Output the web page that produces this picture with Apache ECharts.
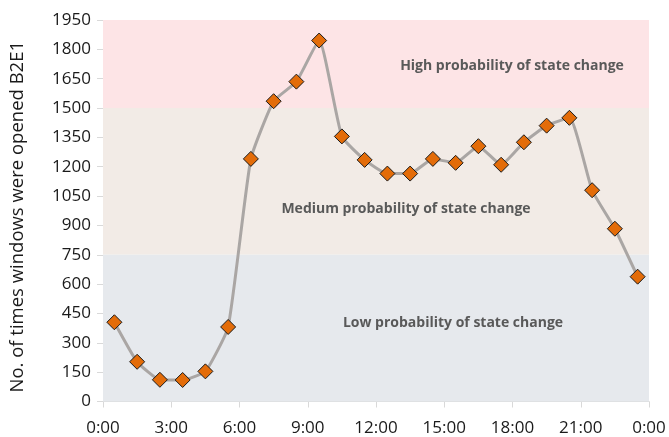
<!DOCTYPE html>
<html>
<head>
<meta charset="utf-8">
<script src="https://cdn.jsdelivr.net/npm/echarts@6/dist/echarts.min.js"></script>
<style>html,body{margin:0;padding:0;background:#fff}#c{width:669px;height:437px}</style>
</head>
<body>
<div id="c"></div>
<script>
var hours = [0.5,1.5,2.5,3.5,4.5,5.5,6.5,7.5,8.5,9.5,10.5,11.5,12.5,13.5,14.5,15.5,16.5,17.5,18.5,19.5,20.5,21.5,22.5,23.5];
var counts = [405,203,111,110,154,381,1240,1535,1635,1845,1355,1235,1165,1165,1240,1220,1305,1210,1325,1410,1450,1080,883,638];
var bandNames = ['High probability of state change','Medium probability of state change','Low probability of state change'];
var bandFrom = [1500, 750, 0];
var bandTo = [1950, 1500, 750];
var bandColors = ['#fde4e6','#f2ebe6','#e6e9ed'];
var bandLabelOffsets = [[136,2],[30,28],[77,-5]];
var yAxisName = 'No. of times windows were opened B2E1';

var fontFam = '"Open Sans", "DejaVu Sans", sans-serif';
var pts = hours.map(function(h,i){return [h, counts[i]];});
var areas = bandNames.map(function(n,i){
  return [{yAxis: bandFrom[i], name: n, itemStyle:{color: bandColors[i]},
           label:{offset: bandLabelOffsets[i]}},
          {yAxis: bandTo[i]}];
});

var chart = echarts.init(document.getElementById('c'), null, {renderer:'canvas'});
chart.setOption({
  animation: false,
  grid: {left: 103, right: 20, top: 20, bottom: 35.5, containLabel: false},
  xAxis: {
    type: 'value', min: 0, max: 24, interval: 3,
    axisLine: {show: true, lineStyle: {color: '#d9d9d9', width: 1}},
    axisTick: {show: true, length: 6, lineStyle: {color: '#d9d9d9'}},
    splitLine: {show: false},
    axisLabel: {
      margin: 18, color: '#1a1a1a', fontSize: 17, fontFamily: fontFam,
      formatter: function(v){ return (v % 24) + ':00'; }
    }
  },
  yAxis: {
    type: 'value', min: 0, max: 1950, interval: 150,
    name: yAxisName, nameLocation: 'middle', nameGap: 76, nameRotate: 90,
    nameTextStyle: {color: '#1a1a1a', fontSize: 18.5, fontFamily: fontFam, padding: [0, 12, 0, 0]},
    axisLine: {show: false},
    axisTick: {show: true, length: 6, lineStyle: {color: '#d9d9d9'}},
    splitLine: {show: true, lineStyle: {color: '#d9d9d9', width: 1}},
    axisLabel: {margin: 12, color: '#1a1a1a', fontSize: 17, fontFamily: fontFam,
      formatter: function(v){ return String(v); }}
  },
  series: [{
    type: 'line',
    data: pts,
    smooth: 0.15,
    symbol: 'diamond',
    symbolSize: 15,
    lineStyle: {color: '#aaa6a4', width: 3},
    itemStyle: {color: '#e36c09', borderColor: '#1a1a1a', borderWidth: 1},
    z: 5,
    markArea: {
      silent: true,
      label: {show: true, position: 'inside', color: '#595959', fontSize: 14,
              fontWeight: 'bold', fontFamily: fontFam},
      data: areas
    }
  }]
});
</script>
</body>
</html>
